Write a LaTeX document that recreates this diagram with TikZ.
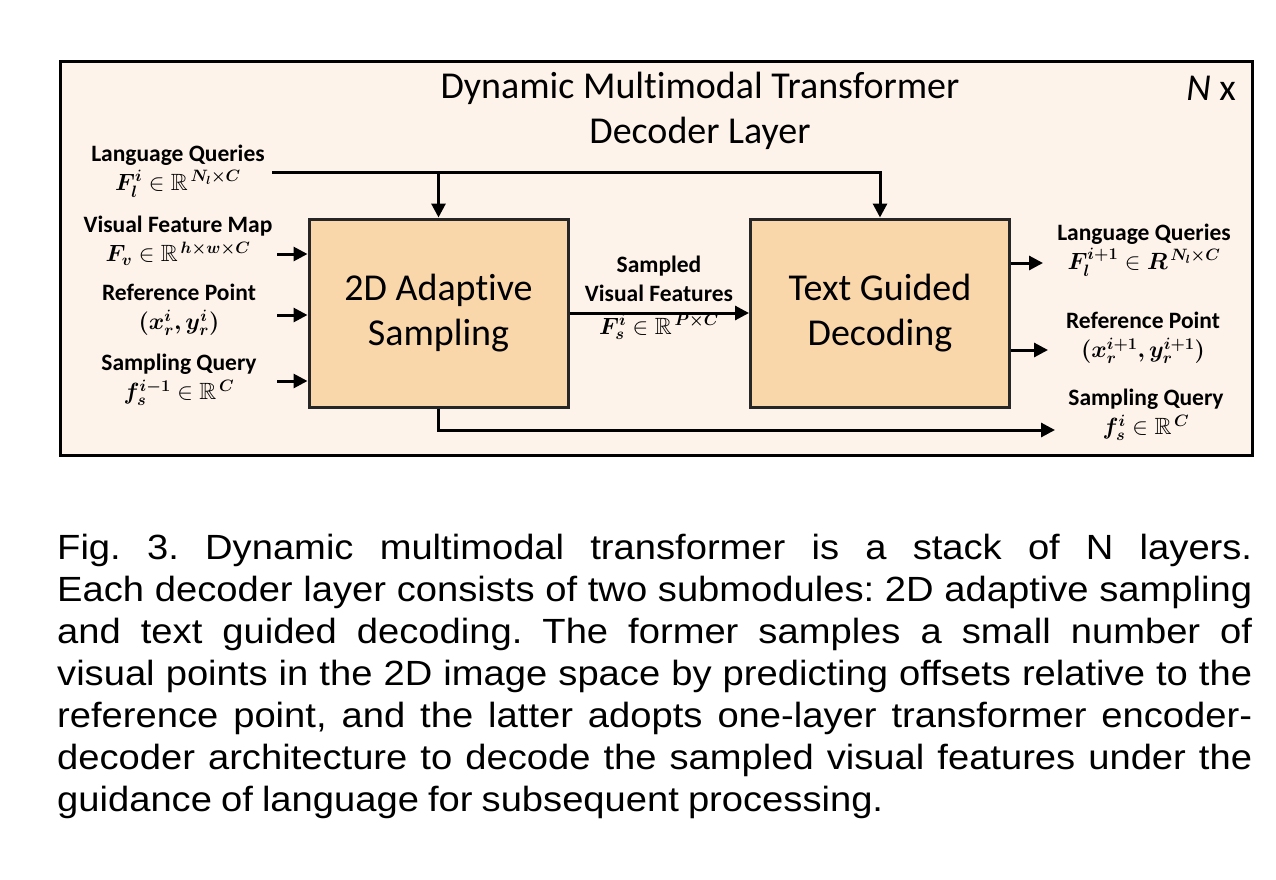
\RequirePackage{fix-cm}
\documentclass[tikz,border=0pt]{standalone}
\usepackage{amsmath,amssymb,bm}
\usepackage{fontspec}
\setmainfont{Carlito}[RawFeature=-liga]
\newfontfamily\capfont{Liberation Sans}[FakeStretch=1.09]
\usetikzlibrary{arrows.meta}
\definecolor{framefill}{HTML}{FDF3EA}
\definecolor{boxfill}{HTML}{FAD6AB}
\begin{document}
\begin{tikzpicture}[x=1pt,y=-1pt,
  frame/.style={draw=black, line width=3pt, fill=framefill},
  blk/.style={draw=black!85, line width=3pt, fill=boxfill, minimum width=259pt, minimum height=188pt, inner sep=0pt, align=center, font=\fontsize{38}{45}\selectfont},
  lbl/.style={align=center, inner sep=0pt, font=\fontsize{23.5}{29}\selectfont\bfseries},
  ttl/.style={align=center, inner sep=0pt, font=\fontsize{38}{45}\selectfont},
  arr/.style={line width=3pt, -{Triangle[length=14pt,width=14pt]}},
  ln/.style={line width=3pt}]
\useasboundingbox (0,0) rectangle (1276,879);
\fill[white] (0,0) rectangle (1276,879);
% outer frame
\path[frame] (60,61) rectangle (1252,455);
\node[ttl] (title) at (700,110.5) {Dynamic Multimodal Transformer\\Decoder Layer};
\node[ttl, anchor=east] (nx) at (1236,88) {\textit{N} x};
% blocks
\node[blk] (b1) at (438.5,313) {2D Adaptive\\Sampling};
\node[blk] (b2) at (880,313) {Text Guided\\Decoding};
% left labels
\node[lbl] (lq) at (178,171) {Language Queries\\$\boldsymbol{F_l^i}\in\mathbb{R}^{\,\boldsymbol{N_l\times C}}$};
\node[lbl] (vf) at (178,241) {Visual Feature Map\\$\boldsymbol{F_v}\in\mathbb{R}^{\,\boldsymbol{h\times w\times C}}$};
\node[lbl] (rp) at (179,310) {Reference Point\\$\boldsymbol{(x_r^i, y_r^i)}$};
\node[lbl] (sq) at (179,380) {Sampling Query\\$\boldsymbol{f_s^{i-1}}\in\mathbb{R}^{\,\boldsymbol{C}}$};
% middle label
\node[lbl] (svf) at (659,278.5) {Sampled\\Visual Features};
\node[lbl] (svfm) at (659,327) {$\boldsymbol{F_s^i}\in\mathbb{R}^{\,\boldsymbol{P\times C}}$};
% right labels
\node[lbl] (olq) at (1144,250) {Language Queries\\$\boldsymbol{F_l^{i+1}}\in\boldsymbol{R}^{\,\boldsymbol{N_l\times C}}$};
\node[lbl] (orp) at (1143,338) {Reference Point\\$\boldsymbol{(x_r^{i+1}, y_r^{i+1})}$};
\node[lbl] (osq) at (1146,415) {Sampling Query\\$\boldsymbol{f_s^{i}}\in\mathbb{R}^{\,\boldsymbol{C}}$};
% coordinates
\coordinate (lqs) at (272,172);
\coordinate (vfs) at (277,254);
\coordinate (rps) at (277,315);
\coordinate (sqs) at (277,381);
\coordinate (olqe) at (1043,263);
\coordinate (orpe) at (1048,350);
\coordinate (osqe) at (1055,430);
\coordinate (mid) at (0,313);
% connectors
\draw[arr] (lqs) -| (b2.north);
\draw[arr] (lqs -| b1.north) -- (b1.north);
\draw[arr] (vfs) -- (vfs -| b1.west);
\draw[arr] (rps) -- (rps -| b1.west);
\draw[arr] (sqs) -- (sqs -| b1.west);
\draw[arr] (mid -| b1.east) -- (mid -| b2.west);
\draw[arr] (olqe -| b2.east) -- (olqe);
\draw[arr] (orpe -| b2.east) -- (orpe);
\draw[arr] (b1.south) |- (osqe);
% caption
\node[anchor=north west, text width=1195pt, inner sep=0pt, align=justify,
  font=\capfont\fontsize{35}{42}\selectfont] (cap) at (57,534)
 {\frenchspacing\hyphenpenalty=10000\exhyphenpenalty=10000
 \spaceskip=0.26em plus 0.6em minus 0.1em
 Fig. 3. Dynamic multimodal transformer is a stack of N layers.\linebreak
 Each decoder layer consists of two submodules: 2D adaptive sampling\linebreak
 and text guided decoding. The former samples a small number of\linebreak
 visual points in the 2D image space by predicting offsets relative to the\linebreak
 reference point, and the latter adopts one-layer transformer encoder-\linebreak
 decoder architecture to decode the sampled visual features under the\linebreak
 guidance of language for subsequent processing.};
\end{tikzpicture}
\end{document}
